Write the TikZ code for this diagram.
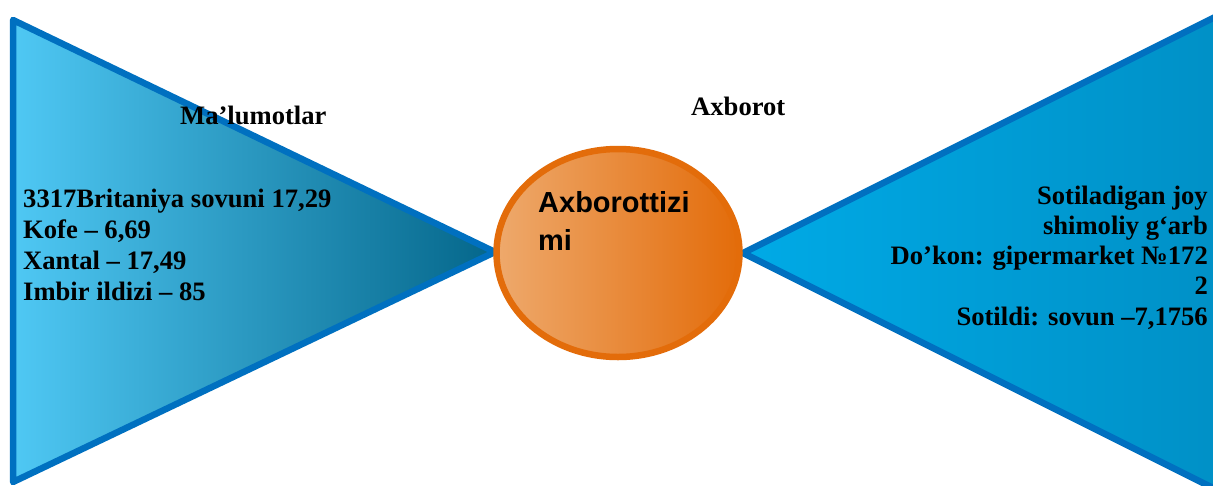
\documentclass[tikz,border=0pt]{standalone}
\usepackage{fontspec}
\setmainfont{Liberation Serif}
\newfontfamily\arialfont{Liberation Sans}
\usetikzlibrary{shapes.geometric}

\definecolor{edgeblue}{HTML}{0070C0}
\definecolor{lightsky}{HTML}{4FC8F4}
\definecolor{darkteal}{HTML}{04668A}
\definecolor{skyleft}{HTML}{00AAE6}
\definecolor{skyright}{HTML}{0090C6}
\definecolor{orangeedge}{HTML}{E36C0A}
\definecolor{orangelight}{HTML}{EEA96C}

\tikzset{
  wing/.style={draw=edgeblue, line width=6.5pt, line join=round},
  bigtext/.style={font=\fontsize{26.6}{31}\selectfont\bfseries, inner sep=0pt},
  tizimbox/.style={ellipse, draw=orangeedge, line width=6.5pt,
    left color=orangelight, right color=orangeedge,
    minimum width=243pt, minimum height=208pt, inner sep=0pt}
}

\begin{document}
\begin{tikzpicture}[x=1pt,y=-1pt]
\useasboundingbox (0,0) rectangle (1213,485);
\clip (0,0) rectangle (1213,485);

% chap tomon
\shadedraw[wing, left color=lightsky, right color=darkteal]
  (13,20) -- (495,252) -- (13,482) -- cycle;
% o'ng tomon
\shadedraw[wing, left color=skyleft, right color=skyright]
  (1225,12) -- (743,253) -- (1225,494) -- cycle;

\node[tizimbox] (tizim) at (618,253) {};
\node[anchor=base west, align=left, inner sep=0pt,
  font=\arialfont\fontsize{29}{38}\selectfont\bfseries] (tizimnomi) at (538,250)
  {Axborottizi\\mi};

\node[bigtext, anchor=base west] (malumot) at (180,124) {Ma’lumotlar};
\node[bigtext, anchor=base west] (axborot) at (691,115) {Axborot};

% base = oxirgi qator
\node[bigtext, anchor=base west, align=left] (royxat) at (23,300)
  {3317Britaniya sovuni 17,29\\Kofe – 6,69\\Xantal – 17,49\\Imbir ildizi – 85};
\node[bigtext, font=\fontsize{26.6}{30.2}\selectfont\bfseries,
  anchor=base east, align=right] (sotuv) at (1208,325)
  {Sotiladigan joy\\shimoliy g‘arb\\Do’kon: gipermarket №172\\2\\Sotildi: sovun –7,1756};
\end{tikzpicture}
\end{document}
